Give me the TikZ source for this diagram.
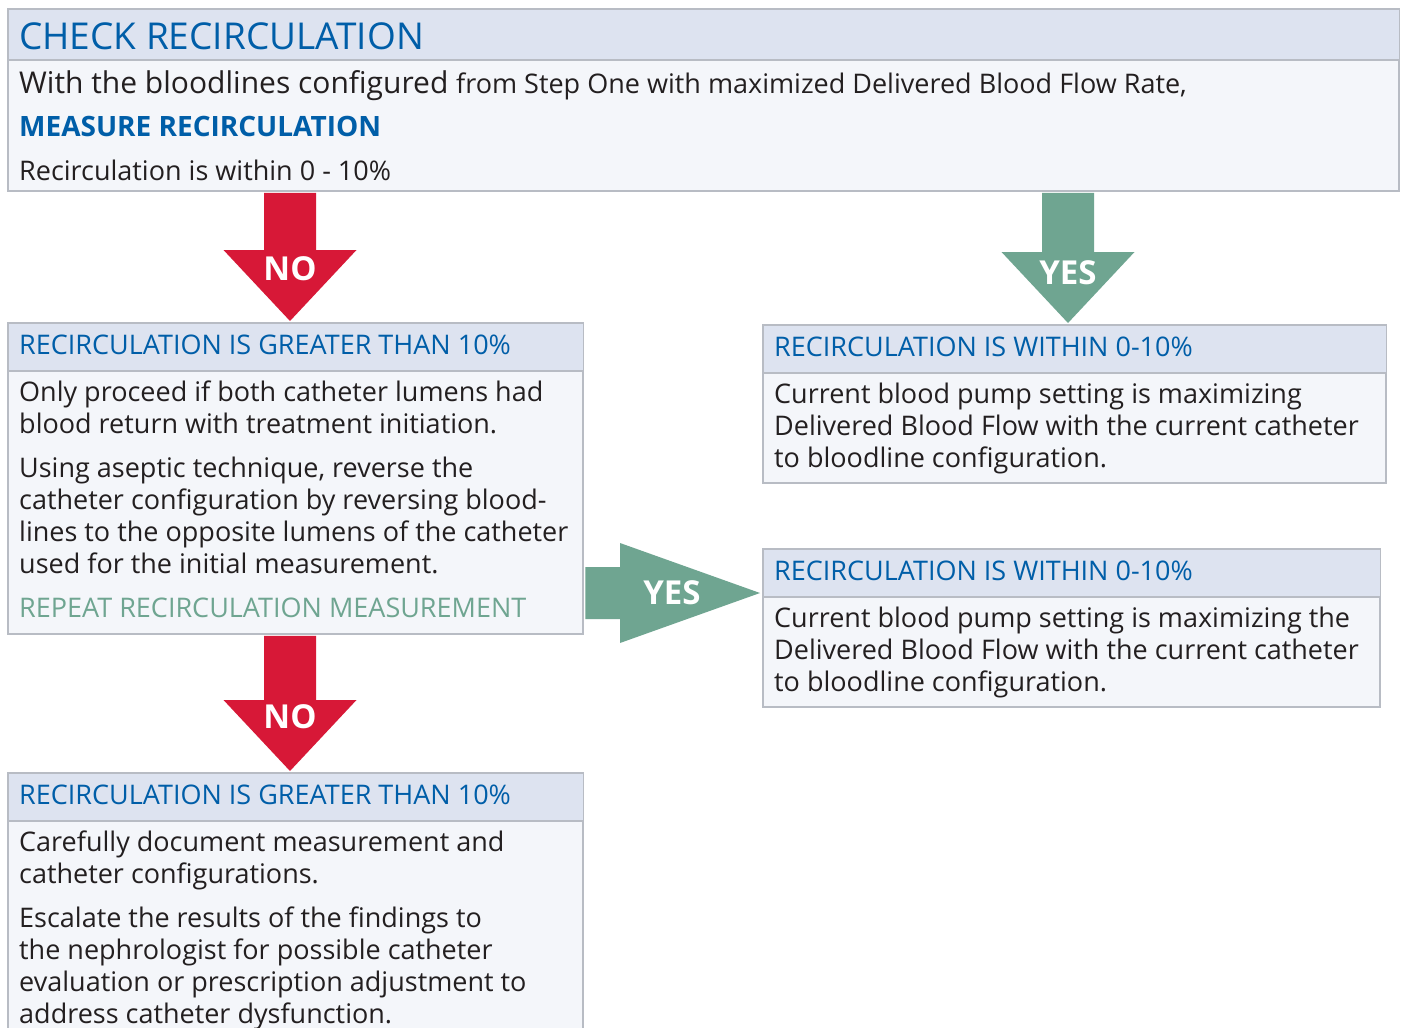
\documentclass[tikz,border=0pt]{standalone}
\usepackage{fontspec}
\setmainfont{Open Sans}
\usetikzlibrary{calc}
\definecolor{hblue}{RGB}{0,94,168}
\definecolor{nored}{RGB}{215,24,55}
\definecolor{yesgreen}{RGB}{111,165,145}
\definecolor{hdrfill}{RGB}{221,227,240}
\definecolor{bodyfill}{RGB}{244,246,250}
\definecolor{boxline}{RGB}{184,188,196}
\definecolor{txt}{RGB}{35,31,32}
\newcommand\fs[1]{\fontsize{#1}{#1}\selectfont}
\begin{document}
\begin{tikzpicture}[x=1pt,y=-1pt,
  box/.style={draw=boxline,fill=bodyfill,line width=1.4pt,inner sep=0,anchor=north west},
  htxt/.style={anchor=base west,inner sep=0,text=hblue,font=\fs{27}},
  btxt/.style={anchor=base west,inner sep=0,text=txt,font=\fs{27}},
  gtxt/.style={anchor=base west,inner sep=0,text=yesgreen,font=\fs{27}},
  lbl/.style={inner sep=0,text=white,font=\fs{33}\bfseries}]
\clip (0,0) rectangle (1403,1028);
\fill[white] (0,0) rectangle (1403,1028);
% boxes
\node[box,minimum width=1390pt,minimum height=181pt] (top) at (8,9) {};
\node[box,minimum width=574pt,minimum height=310pt] (lb1) at (8,323) {};
\node[box,minimum width=622pt,minimum height=157pt] (rb1) at (763,325) {};
\node[box,minimum width=616pt,minimum height=157pt] (rb2) at (763,549) {};
\node[box,minimum width=574pt,minimum height=300pt] (lb2) at (8,773) {};
% header bands
\foreach \b/\h in {top/51,lb1/48,rb1/48,rb2/48,lb2/48}{
  \fill[hdrfill] (\b.north west) rectangle ([yshift=-\h pt]\b.north east);
  \draw[boxline,line width=1.4pt] ([yshift=-\h pt]\b.north west) -- ([yshift=-\h pt]\b.north east);
  \draw[boxline,line width=1.4pt] (\b.south west) rectangle (\b.north east);
}
% arrows
\coordinate (t1) at (290,321);
\coordinate (t2) at (1068,323);
\coordinate (t3) at (760,593);
\coordinate (t4) at (290,771);
\fill[nored] ($(top.south -| t1)+(-26,1.5)$) -- ($(top.south -| t1)+(26,1.5)$) -- ($(t1)+(26,-71)$) -- ($(t1)+(66.5,-71)$) -- (t1) -- ($(t1)+(-66.5,-71)$) -- ($(t1)+(-26,-71)$) -- cycle;
\fill[yesgreen] ($(top.south -| t2)+(-26,1.5)$) -- ($(top.south -| t2)+(26,1.5)$) -- ($(t2)+(26,-71)$) -- ($(t2)+(66.5,-71)$) -- (t2) -- ($(t2)+(-66.5,-71)$) -- ($(t2)+(-26,-71)$) -- cycle;
\fill[nored] ($(lb1.south -| t4)+(-26,1.5)$) -- ($(lb1.south -| t4)+(26,1.5)$) -- ($(t4)+(26,-71)$) -- ($(t4)+(66.5,-71)$) -- (t4) -- ($(t4)+(-66.5,-71)$) -- ($(t4)+(-26,-71)$) -- cycle;
\fill[yesgreen] ($(lb1.east |- t3)+(2,-26)$) -- ($(t3)+(-140,-26)$) -- ($(t3)+(-140,-50)$) -- (t3) -- ($(t3)+(-140,50)$) -- ($(t3)+(-140,26)$) -- ($(lb1.east |- t3)+(2,26)$) -- cycle;
\node[lbl] (no1) at (290,269) {NO};
\node[lbl] (yes1) at (1068,273) {YES};
\node[lbl] (yes2) at (672,593) {YES};
\node[lbl] (no2) at (290,717) {NO};
% top box text
\node[anchor=base west,inner sep=0,text=hblue,font=\fs{37}] (title) at (19,49) {CHECK RECIRCULATION};
\node[anchor=base west,inner sep=0,text=txt] (t0) at (19,93) {\fs{30}With the bloodlines configured \fs{27}from Step One with maximized Delivered Blood Flow Rate,};
\node[anchor=base west,inner sep=0,text=hblue,font=\fs{28}\bfseries] (t0b) at (19,136) {MEASURE RECIRCULATION};
\node[btxt] (t0c) at (19,180) {Recirculation is within 0 - 10\%};
% left box 1
\node[htxt] (h1) at (19,354) {RECIRCULATION IS GREATER THAN 10\%};
\node[btxt] (a1) at (19,401) {Only proceed if both catheter lumens had};
\node[btxt] (a2) at (19,433) {blood return with treatment initiation.};
\node[btxt] (a3) at (19,477) {Using aseptic technique, reverse the};
\node[btxt] (a4) at (19,509) {catheter configuration by reversing blood-};
\node[btxt] (a5) at (19,541) {lines to the opposite lumens of the catheter};
\node[btxt] (a6) at (19,573) {used for the initial measurement.};
\node[gtxt] (a7) at (19,617) {REPEAT RECIRCULATION MEASUREMENT};
% right box 1
\node[htxt] (h2) at (774,356) {RECIRCULATION IS WITHIN 0-10\%};
\node[btxt] (b1) at (774,403) {Current blood pump setting is maximizing};
\node[btxt] (b2) at (774,435) {Delivered Blood Flow with the current catheter};
\node[btxt] (b3) at (774,467) {to bloodline configuration.};
% right box 2
\node[htxt] (h3) at (774,580) {RECIRCULATION IS WITHIN 0-10\%};
\node[btxt] (c1) at (774,627) {Current blood pump setting is maximizing the};
\node[btxt] (c2) at (774,659) {Delivered Blood Flow with the current catheter};
\node[btxt] (c3) at (774,691) {to bloodline configuration.};
% left box 2
\node[htxt] (h4) at (19,804) {RECIRCULATION IS GREATER THAN 10\%};
\node[btxt] (d1) at (19,851) {Carefully document measurement and};
\node[btxt] (d2) at (19,883) {catheter configurations.};
\node[btxt] (d3) at (19,927) {Escalate the results of the findings to};
\node[btxt] (d4) at (19,959) {the nephrologist for possible catheter};
\node[btxt] (d5) at (19,991) {evaluation or prescription adjustment to};
\node[btxt] (d6) at (19,1023) {address catheter dysfunction.};
\end{tikzpicture}
\end{document}
